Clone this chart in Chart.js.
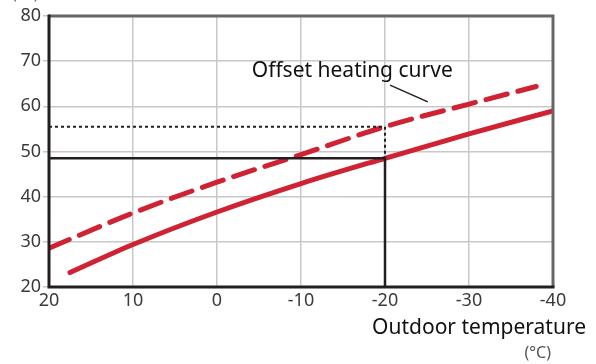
<!DOCTYPE html>
<html lang="en">
<head>
  <meta charset="UTF-8">
  <title>Heating curve</title>
  <script src="https://cdn.jsdelivr.net/npm/chart.js"></script>
  <style>
    html, body { margin: 0; padding: 0; background: #fff; }
    #chart-container { width: 596px; height: 364px; position: relative; }
  </style>
</head>
<body>
  <div id="chart-container">
    <canvas id="heatChart"></canvas>
  </div>

  <script>
    // heating curve (solid) and offset curve (dashed)
    const outdoorTemps = [17.5, 10, 0, -10, -20, -30, -40];
    const heatingCurve = [23.2, 29.4, 36.6, 42.9, 48.5, 53.9, 59.0];
    const offsetTemps = [20, 10, 0, -10, -20, -30, -38];
    const offsetCurve = [28.6, 36.4, 43.2, 49.3, 55.5, 60.5, 64.4];

    // reading lines at -20 °C
    const readTemp = -20;
    const readSupply = 48.5;
    const readOffset = 55.5;

    const leaderX = [-20.6, -25.1];
    const leaderY = [64.7, 61.0];
    const offsetLabel = 'Offset heating curve';

    const xTicks = [20, 10, 0, -10, -20, -30, -40];
    const yTicks = [20, 30, 40, 50, 60, 70, 80];

    const red = '#cf2232';
    const ink = '#231f20';
    const family = '"Noto Sans", sans-serif';

    const pts = (xs, ys) => xs.map((x, i) => ({ x: x, y: ys[i] }));

    // frame, axis title and the curve label
    const decor = {
      id: 'decor',
      afterDatasetsDraw(chart) {
        const { ctx, chartArea: a, scales } = chart;
        ctx.save();
        ctx.lineWidth = 3;
        ctx.strokeStyle = '#666';
        ctx.beginPath();
        ctx.moveTo(a.left, a.top);
        ctx.lineTo(a.right, a.top);
        ctx.lineTo(a.right, a.bottom);
        ctx.stroke();
        ctx.strokeStyle = ink;
        ctx.beginPath();
        ctx.moveTo(a.left, a.top - 1.5);
        ctx.lineTo(a.left, a.bottom);
        ctx.lineTo(a.right + 1.5, a.bottom);
        ctx.stroke();

        ctx.fillStyle = '#111';
        ctx.font = '21px ' + family;
        ctx.textAlign = 'center';
        ctx.textBaseline = 'middle';
        ctx.fillText(offsetLabel, scales.x.getPixelForValue(-16.1), scales.y.getPixelForValue(67.9));

        ctx.textAlign = 'right';
        ctx.font = '21px ' + family;
        ctx.fillText('Outdoor temperature', 586, 328);
        ctx.fillStyle = '#555';
        ctx.font = '16px ' + family;
        ctx.fillText('(°C)', 551, 353);
        ctx.textAlign = 'left';
        ctx.fillText('(°C)', 12, -6);
        ctx.restore();
      }
    };

    const ctx = document.getElementById('heatChart').getContext('2d');
    new Chart(ctx, {
      type: 'line',
      data: {
        datasets: [
          {
            data: pts([20, readTemp, readTemp], [readSupply, readSupply, 20]),
            borderColor: ink, borderWidth: 2.5, pointRadius: 0, tension: 0
          },
          {
            data: pts([20, readTemp, readTemp], [readOffset, readOffset, readSupply]),
            borderColor: ink, borderWidth: 2, borderDash: [3, 3], pointRadius: 0, tension: 0
          },
          {
            data: pts(outdoorTemps, heatingCurve),
            borderColor: red, borderWidth: 5, borderCapStyle: 'round',
            pointRadius: 0, cubicInterpolationMode: 'monotone'
          },
          {
            data: pts(offsetTemps, offsetCurve),
            borderColor: red, borderWidth: 5, borderDash: [22, 11], borderCapStyle: 'round',
            pointRadius: 0, cubicInterpolationMode: 'monotone'
          },
          {
            data: pts(leaderX, leaderY),
            borderColor: ink, borderWidth: 1.5, pointRadius: 0, tension: 0, clip: false
          }
        ]
      },
      options: {
        responsive: true,
        maintainAspectRatio: false,
        animation: false,
        events: [],
        layout: { padding: { top: 16, right: 43, left: 0, bottom: 0 } },
        plugins: { legend: { display: false }, tooltip: { enabled: false } },
        scales: {
          x: {
            type: 'linear',
            reverse: true,
            min: -40, max: 20,
            afterBuildTicks: s => { s.ticks = xTicks.map(v => ({ value: v })); },
            afterFit: s => { s.height = 77; },
            border: { display: false },
            grid: { color: '#c8c8c8', lineWidth: 1.5, drawTicks: false },
            ticks: { color: '#3a3a3a', font: { size: 18, family: family }, padding: 3 }
          },
          y: {
            min: 20, max: 80,
            afterBuildTicks: s => { s.ticks = yTicks.map(v => ({ value: v })); },
            afterFit: s => { s.width = 49; },
            border: { display: false },
            grid: { color: '#c8c8c8', lineWidth: 1.5, tickLength: 6 },
            ticks: { color: '#3a3a3a', font: { size: 18, family: family }, padding: 2 }
          }
        }
      },
      plugins: [decor]
    });
  </script>
</body>
</html>
